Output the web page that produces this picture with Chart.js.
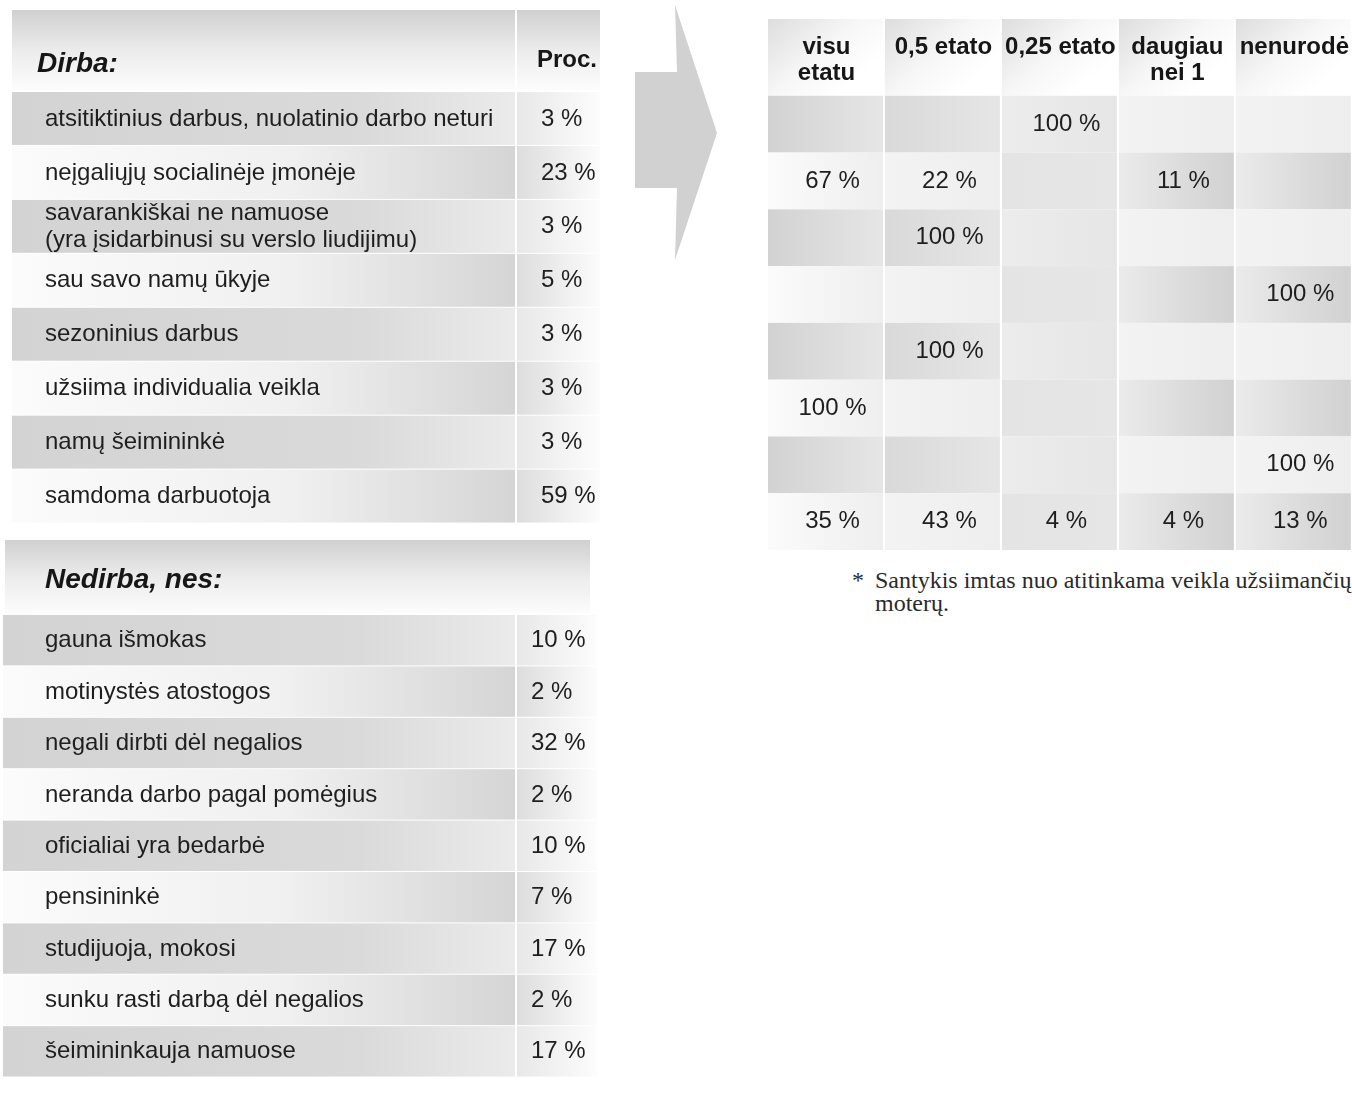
<!DOCTYPE html>
<html lang="lt">
<head>
<meta charset="utf-8">
<title>Dirba / Nedirba</title>
<script src="https://cdn.jsdelivr.net/npm/chart.js@4.4.1/dist/chart.umd.min.js"></script>
<style>
  html, body { margin: 0; padding: 0; background: #fff; }
  body { width: 1352px; height: 1094px; position: relative; overflow: hidden; }
  .box { position: absolute; }
  #dirbaBox { left: 0; top: 10px; width: 605px; height: 530px; }
  #nedirbaBox { left: 0; top: 540px; width: 605px; height: 554px; }
  #etatasBox { left: 760px; top: 15px; width: 598px; height: 545px; }
  .arrow { position: absolute; left: 620px; top: 0; }
  .note { position: absolute; left: 852px; top: 569px; font-family: "Liberation Serif", "Times New Roman", serif;
          font-size: 24px; line-height: 23px; color: #2a2a2a; white-space: nowrap; }
  .note .txt { position: absolute; left: 23px; top: 0; }
</style>
</head>
<body>
<div class="box" id="dirbaBox"><canvas id="dirba"></canvas></div>
<div class="box" id="nedirbaBox"><canvas id="nedirba"></canvas></div>
<svg class="arrow" width="110" height="270">
  <polygon points="15,72 57,72 55,5 97,133 55,260 57,188 15,188" fill="#d1d1d1"/>
</svg>
<div class="box" id="etatasBox"><canvas id="etatas"></canvas></div>
<div class="note"><span>*</span><span class="txt">Santykis imtas nuo atitinkama veikla užsiimančių<br>moterų.</span></div>

<script>
// Duomenys
const dirbaLabels = [
    'atsitiktinius darbus, nuolatinio darbo neturi',
    'neįgaliųjų socialinėje įmonėje',
    ['savarankiškai ne namuose', '(yra įsidarbinusi su verslo liudijimu)'],
    'sau savo namų ūkyje',
    'sezoninius darbus',
    'užsiima individualia veikla',
    'namų šeimininkė',
    'samdoma darbuotoja'
];
const dirbaProc = [3, 23, 3, 5, 3, 3, 3, 59];

const nedirbaLabels = [
    'gauna išmokas',
    'motinystės atostogos',
    'negali dirbti dėl negalios',
    'neranda darbo pagal pomėgius',
    'oficialiai yra bedarbė',
    'pensininkė',
    'studijuoja, mokosi',
    'sunku rasti darbą dėl negalios',
    'šeimininkauja namuose'
];
const nedirbaProc = [10, 2, 32, 2, 10, 7, 17, 2, 17];

// Etato lentelė (eilutės kaip dirbaLabels)
const etatoCols = [['visu', 'etatu'], '0,5 etato', '0,25 etato', ['daugiau', 'nei 1'], 'nenurodė'];
const visuEtatu      = [null, 67, null, null, null, 100, null, 35];
const pusEtato       = [null, 22, 100, null, 100, null, null, 43];
const ketvirtisEtato = [100, null, null, null, null, null, null, 4];
const daugiauNei1    = [null, 11, null, null, null, null, null, 4];
const nenurode       = [null, null, null, 100, null, null, 100, 13];

const FONT = '"Liberation Sans", Arial, sans-serif';
Chart.defaults.font.family = FONT;
Chart.defaults.color = '#1e1e1e';

// Lentelės fonas + procentai kairėje
const procTable = {
    id: 'procTable',
    beforeDraw(chart, args, o) {
        const { ctx, chartArea: a, scales: { y } } = chart;
        const split = a.left - 2;
        const valueRight = a.right - o.rightInset;
        const h = y.getPixelForValue(1) - y.getPixelForValue(0);
        ctx.save();
        const hg = ctx.createLinearGradient(0, 0, 0, a.top);
        hg.addColorStop(0, '#d0d0d0');
        hg.addColorStop(0.5, '#ececec');
        hg.addColorStop(1, '#fdfdfd');
        ctx.fillStyle = hg;
        if (o.valueHeader) {
            ctx.fillRect(o.rowLeft, 0, split - o.rowLeft, a.top - 2);
            ctx.fillRect(a.left, 0, valueRight - a.left, a.top - 2);
        } else {
            ctx.fillRect(o.headerLeft, 0, o.headerRight - o.headerLeft, a.top - 2);
        }
        y.getLabels().forEach((_, i) => {
            const top = y.getPixelForValue(i) - h / 2;
            const dark = i % 2 === 0;
            const g = ctx.createLinearGradient(o.rowLeft, 0, split, 0);
            if (dark) {
                g.addColorStop(0, '#d3d3d3'); g.addColorStop(0.7, '#dadada'); g.addColorStop(1, '#ebebeb');
            } else {
                g.addColorStop(0, '#fbfbfb'); g.addColorStop(0.55, '#f0f0f0'); g.addColorStop(1, '#d5d5d5');
            }
            ctx.fillStyle = g;
            ctx.fillRect(o.rowLeft, top, split - o.rowLeft, h - 1);
            const vg = ctx.createLinearGradient(a.left, 0, valueRight, 0);
            vg.addColorStop(0, dark ? '#e8e8e8' : '#dddddd');
            vg.addColorStop(1, '#fcfcfc');
            ctx.fillStyle = vg;
            ctx.fillRect(a.left, top, valueRight - a.left, h - 1);
        });
        ctx.restore();
    },
    afterDraw(chart, args, o) {
        const { ctx, chartArea: a } = chart;
        ctx.save();
        ctx.fillStyle = '#161616';
        ctx.textBaseline = 'alphabetic';
        ctx.font = 'italic bold 28px ' + FONT;
        ctx.fillText(o.title, o.titleX, o.titleY);
        if (o.valueHeader) {
            ctx.font = 'bold 24px ' + FONT;
            ctx.fillText(o.valueHeader, a.left + 20, o.titleY - 5);
        }
        ctx.font = '24px ' + FONT;
        ctx.fillStyle = '#1e1e1e';
        ctx.textBaseline = 'middle';
        const meta = chart.getDatasetMeta(0);
        chart.data.datasets[0].data.forEach((v, i) => {
            ctx.fillText(v + ' %', a.left + o.valueLeft, meta.data[i].y);
        });
        ctx.restore();
    }
};

function labelAxis() {
    return {
        offset: true,
        grid: { display: false, drawTicks: false },
        border: { display: false },
        ticks: { crossAlign: 'far', autoSkip: false, color: '#1e1e1e', font: { size: 24, lineHeight: 1.12 } },
        afterFit(s) { s.width = 472; }
    };
}

function procChart(id, labels, values, top, opts) {
    return new Chart(document.getElementById(id), {
        type: 'bar',
        data: {
            labels: labels,
            datasets: [{ label: 'Proc.', data: values, backgroundColor: 'rgba(0,0,0,0)', barPercentage: 1, categoryPercentage: 1 }]
        },
        options: {
            indexAxis: 'y',
            responsive: true,
            maintainAspectRatio: false,
            animation: false,
            events: [],
            layout: { padding: { top: top, left: 45, right: 0, bottom: 0 } },
            scales: {
                x: { display: false, min: 0, max: 100 },
                y: labelAxis()
            },
            plugins: {
                legend: { display: false },
                tooltip: { enabled: false },
                procTable: opts
            }
        },
        plugins: [procTable]
    });
}

procChart('dirba', dirbaLabels, dirbaProc, 82,
    { title: 'Dirba:', valueHeader: 'Proc.', titleX: 37, titleY: 62, rowLeft: 12, rightInset: 5, valueLeft: 24 });
procChart('nedirba', nedirbaLabels, nedirbaProc, 75,
    { title: 'Nedirba, nes:', titleX: 45, titleY: 48, rowLeft: 3, headerLeft: 5, headerRight: 590, rightInset: 8, valueLeft: 14 });

// Dešinė lentelė
const etatoData = [visuEtatu, pusEtato, ketvirtisEtato, daugiauNei1, nenurode];

function cellFill(ctx, c, r, left, w) {
    const g = ctx.createLinearGradient(left, 0, left + w, 0);
    const dark = c < 2 ? r % 2 === 0 : r % 2 === 1;
    if (c === 2) {
        g.addColorStop(0, r % 2 ? '#e4e4e4' : '#ececec'); g.addColorStop(1, '#e6e6e6');
    } else if (dark && c < 2) {
        g.addColorStop(0, c === 0 ? '#d2d2d2' : '#d9d9d9'); g.addColorStop(1, '#e6e6e6');
    } else if (dark) {
        g.addColorStop(0, '#ebebeb'); g.addColorStop(0.5, '#dddddd'); g.addColorStop(1, '#d1d1d1');
    } else {
        g.addColorStop(0, c === 0 ? '#fbfbfb' : '#f3f3f3'); g.addColorStop(1, '#eeeeee');
    }
    return g;
}

const gridTable = {
    id: 'gridTable',
    beforeDraw(chart) {
        const { ctx, chartArea: a, scales: { x, y } } = chart;
        const w = x.getPixelForValue(1) - x.getPixelForValue(0);
        const h = y.getPixelForValue(1) - y.getPixelForValue(0);
        ctx.save();
        x.getLabels().forEach((_, c) => {
            const left = x.getPixelForValue(c) - w / 2;
            const hg = ctx.createLinearGradient(left, 0, left + w * 0.6, a.top);
            hg.addColorStop(0, '#dcdcdc');
            hg.addColorStop(0.6, '#f7f7f7');
            hg.addColorStop(1, '#ffffff');
            ctx.fillStyle = hg;
            ctx.fillRect(left, 4, w - 2, a.top - 4);
            y.getLabels().forEach((_, r) => {
                const top = y.getPixelForValue(r) - h / 2;
                ctx.fillStyle = cellFill(ctx, c, r, left, w);
                ctx.fillRect(left, top, w - 2, h);
            });
        });
        ctx.restore();
    },
    afterDraw(chart) {
        const { ctx, scales: { x, y } } = chart;
        ctx.save();
        ctx.font = '24px ' + FONT;
        ctx.fillStyle = '#1e1e1e';
        ctx.textAlign = 'center';
        ctx.textBaseline = 'middle';
        etatoData.forEach((col, c) => {
            col.forEach((v, r) => {
                if (v === null) return;
                ctx.fillText(v + ' %', x.getPixelForValue(c) + 6, y.getPixelForValue(r));
            });
        });
        ctx.restore();
    }
};

new Chart(document.getElementById('etatas'), {
    type: 'bar',
    data: { labels: etatoCols, datasets: [] },
    options: {
        responsive: true,
        maintainAspectRatio: false,
        animation: false,
        events: [],
        layout: { padding: { top: 10, left: 8, right: 0, bottom: 10 } },
        scales: {
            x: {
                position: 'top',
                offset: true,
                grid: { display: false, drawTicks: false },
                border: { display: false },
                ticks: { crossAlign: 'far', maxRotation: 0, autoSkip: false, padding: 9, color: '#161616',
                         font: { size: 24, weight: 'bold', lineHeight: 1.1 } }
            },
            y: { type: 'category', labels: dirbaLabels, offset: true, display: false }
        },
        plugins: { legend: { display: false }, tooltip: { enabled: false } }
    },
    plugins: [gridTable]
});
</script>
</body>
</html>
